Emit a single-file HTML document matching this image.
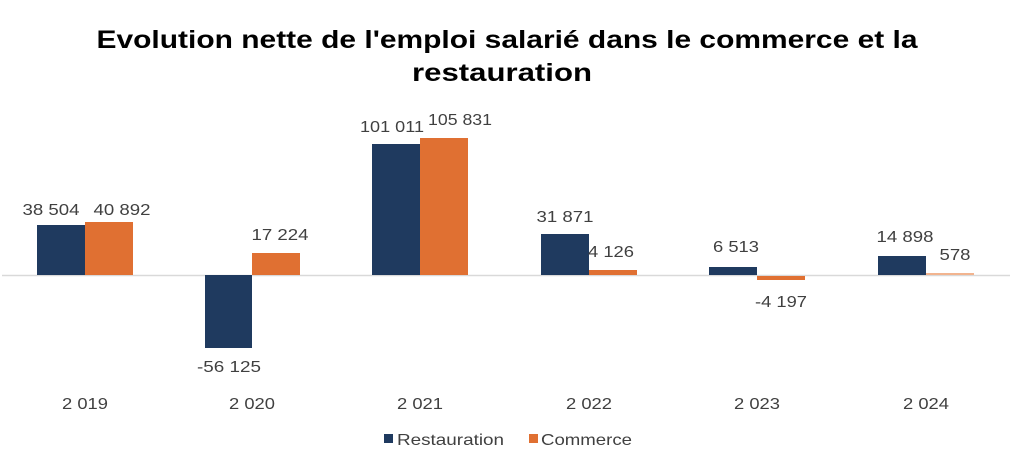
<!DOCTYPE html>
<html><head><meta charset="utf-8"><style>body{margin:0;background:#fff}svg{display:block}</style></head><body>
<svg width="1024" height="474" viewBox="0 0 1024 474" xmlns="http://www.w3.org/2000/svg" font-family="Liberation Sans, sans-serif">
<rect width="1024" height="474" fill="#fff"/>
<text x="507" y="48" text-anchor="middle" font-size="25" font-weight="bold" fill="#000" textLength="821" lengthAdjust="spacingAndGlyphs">Evolution nette de l'emploi salarié dans le commerce et la</text>
<text x="502" y="81" text-anchor="middle" font-size="25" font-weight="bold" fill="#000" textLength="180" lengthAdjust="spacingAndGlyphs">restauration</text>
<line x1="2" y1="275.5" x2="1010" y2="275.5" stroke="#d9d9d9" stroke-width="1.5"/>
<g fill="#1f3a5f">
<rect x="37" y="225" width="48" height="50"/>
<rect x="205" y="275" width="47" height="73"/>
<rect x="372" y="144" width="48" height="131"/>
<rect x="541" y="234" width="48" height="41"/>
<rect x="709" y="267" width="48" height="8"/>
<rect x="878" y="256" width="48" height="19"/>
</g>
<g fill="#e07032">
<rect x="85" y="222" width="48" height="53"/>
<rect x="252" y="253" width="48" height="22"/>
<rect x="420" y="138" width="48" height="137"/>
<rect x="589" y="270" width="48" height="5"/>
<rect x="757" y="276" width="48" height="4"/>
<rect x="926" y="273" width="48" height="2" fill="#f2b48f"/>
</g>
<g font-size="16" fill="#404040" text-anchor="middle" lengthAdjust="spacingAndGlyphs">
<text x="51" y="215" textLength="57" lengthAdjust="spacingAndGlyphs">38 504</text><text x="122" y="215" textLength="57" lengthAdjust="spacingAndGlyphs">40 892</text>
<text x="229" y="372" textLength="64" lengthAdjust="spacingAndGlyphs">-56 125</text><text x="280" y="240" textLength="57" lengthAdjust="spacingAndGlyphs">17 224</text>
<text x="392" y="132" textLength="64" lengthAdjust="spacingAndGlyphs">101 011</text><text x="460" y="125" textLength="64" lengthAdjust="spacingAndGlyphs">105 831</text>
<text x="565" y="222" textLength="57" lengthAdjust="spacingAndGlyphs">31 871</text><text x="611" y="257" textLength="46" lengthAdjust="spacingAndGlyphs">4 126</text>
<text x="736" y="252" textLength="46" lengthAdjust="spacingAndGlyphs">6 513</text><text x="781" y="307" textLength="52" lengthAdjust="spacingAndGlyphs">-4 197</text>
<text x="905" y="242" textLength="57" lengthAdjust="spacingAndGlyphs">14 898</text><text x="955" y="260" textLength="31" lengthAdjust="spacingAndGlyphs">578</text>
<text x="85" y="409" textLength="46" lengthAdjust="spacingAndGlyphs">2 019</text><text x="252" y="409" textLength="46" lengthAdjust="spacingAndGlyphs">2 020</text>
<text x="420" y="409" textLength="46" lengthAdjust="spacingAndGlyphs">2 021</text><text x="589" y="409" textLength="46" lengthAdjust="spacingAndGlyphs">2 022</text>
<text x="757" y="409" textLength="46" lengthAdjust="spacingAndGlyphs">2 023</text><text x="926" y="409" textLength="46" lengthAdjust="spacingAndGlyphs">2 024</text>
</g>
<rect x="384" y="434" width="9" height="9" fill="#1f3a5f"/>
<text x="397" y="445" font-size="16" fill="#404040" textLength="107" lengthAdjust="spacingAndGlyphs">Restauration</text>
<rect x="529" y="434" width="9" height="9" fill="#e07032"/>
<text x="541" y="445" font-size="16" fill="#404040" textLength="91" lengthAdjust="spacingAndGlyphs">Commerce</text>
</svg>
</body></html>
